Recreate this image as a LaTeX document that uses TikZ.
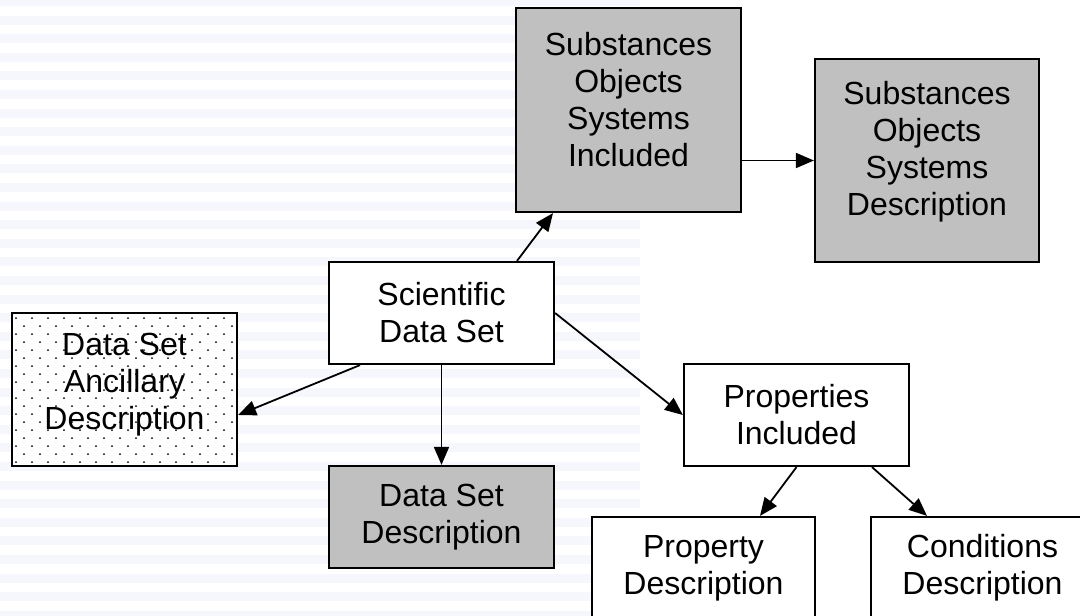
\documentclass[tikz,border=0pt]{standalone}
\usepackage{fontspec}
\setmainfont{Liberation Sans}
\usetikzlibrary{arrows.meta}
\definecolor{rayas}{HTML}{F6F7FD}
\definecolor{gris}{HTML}{C0C0C0}

\begin{document}
\begin{tikzpicture}[x=1pt, y=-1pt,
    caja/.style={draw, line width=2.2pt, fill=white, minimum width=225, minimum height=102,
                 align=center, inner sep=0, font=\fontsize{32}{37}\selectfont},
    cajagris/.style={caja, fill=gris},
    texto/.style={align=center, inner sep=0, font=\fontsize{32}{37}\selectfont},
    flecha/.style={-{Triangle[length=18pt,width=15pt]}, line width=1.8pt}]

        \useasboundingbox (0,0) rectangle (1080,616);
        \clip (0,0) rectangle (1080,616);

        % Fondo rayado
        \foreach \i in {0,...,33}
            \fill[rayas] (0,{\i*18.6-3}) rectangle (640,{\i*18.6+6});

        % Cajas superiores
        \node[cajagris, minimum height=204] (sosi) at (628.5,110) {};
        \node[texto] (sosiTexto) at ([yshift=10pt]sosi.center) {Substances\\Objects\\Systems\\Included};
        \node[cajagris, minimum width=224, minimum height=203] (sosd) at (927,160.5) {};
        \node[texto] (sosdTexto) at ([yshift=9pt]sosd.center) {Substances\\Objects\\Systems\\Description};

        % Caja central
        \node[caja] (sds) at (441.5,313) {Scientific\\Data Set};

        % Caja punteada
        \node[caja, minimum height=153] (dsad) at (124.5,389.5) {};
        \begin{scope}
            \clip (dsad.south west) rectangle (dsad.north east);
            \foreach \j in {0,...,19}
                \foreach \i in {0,...,14}
                    \fill ({16+\i*16+mod(\j,2)*8},{318+\j*8}) circle (1);
        \end{scope}
        \node[texto] (dsadTexto) at ([yshift=5pt]dsad.center) {Data Set\\Ancillary\\Description};

        % Cajas inferiores
        \node[cajagris] (dsd) at (441.5,517) {Data Set\\Description};
        \node[caja] (pi) at (796.5,415) {Properties\\Included};
        \node[caja, minimum width=223] (pd) at (703.5,568) {Property\\Description};
        \node[caja, minimum width=223] (cd) at (982.5,568) {Conditions\\Description};

        % Flechas
        \draw[flecha] ([xshift=75.5pt]sds.north) -- ([xshift=-75.5pt]sosi.south);
        \draw[flecha] (sosi.east |- sosd.west) -- (sosd.west);
        \draw[flecha] ([xshift=-81.5pt]sds.south) -- ([yshift=-25.5pt]dsad.east);
        \draw[flecha] (sds.south) -- (dsd.north);
        \draw[flecha] (sds.east) -- (pi.west);
        \draw[flecha] (pi.south) -- ([xshift=56.5pt]pd.north);
        \draw[flecha] ([xshift=75.5pt]pi.south) -- ([xshift=-55.5pt]cd.north);

    \end{tikzpicture}
\end{document}
